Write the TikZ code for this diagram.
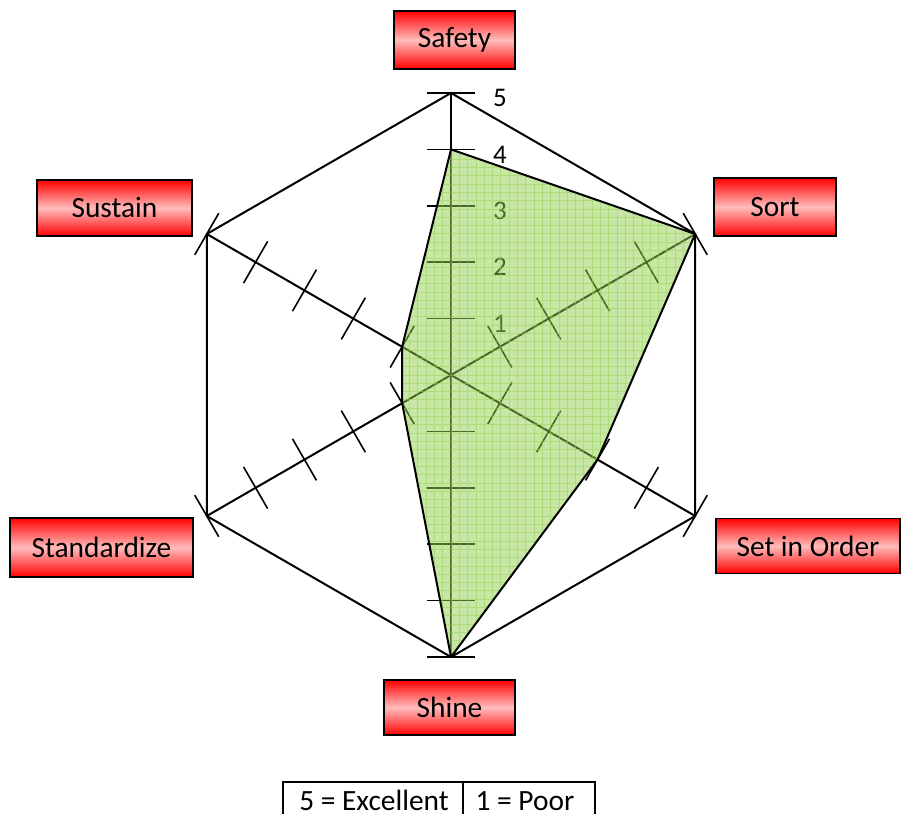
\documentclass[tikz,border=0pt]{standalone}
\usepackage{fontspec}
\setmainfont{Carlito}
\usetikzlibrary{calc}
\definecolor{fillg}{RGB}{146,208,80}
\definecolor{pinkc}{RGB}{255,188,188}
\begin{document}
\begin{tikzpicture}[x=1bp,y=1bp,
  every node/.style={font=\fontsize{29.5}{34}\selectfont},
  lbl/.style={draw=black, line width=1.5bp, top color=red, bottom color=red, middle color=pinkc, inner sep=0pt, align=center},
  ax/.style={line width=2bp},
  tick/.style={line width=1.6bp}]
\useasboundingbox (-451,-439) rectangle (450,375);
% hexagon
\draw[ax, line join=miter] (90:282) -- (30:282) -- (-30:282) -- (-90:282) -- (210:282) -- (150:282) -- cycle;
% axes
\foreach \a in {90,30,-30} \draw[ax] (\a:282) -- (\a+180:282);
% ticks
\foreach \a in {90,30,-30}
  \foreach \k in {-5,-4,-3,-2,-1,1,2,3,4,5}
    \draw[tick] ($(\a:\k*56.4)+(\a+90:24)$) -- ($(\a:\k*56.4)+(\a-90:24)$);
% scale numbers
\foreach \k in {1,...,5} \node[anchor=center, inner sep=0pt, font=\fontsize{27}{32}\selectfont] (n\k) at (49, \k*56.4-5) {\k};
% data polygon
\coordinate (p1) at (90:225.6);
\coordinate (p2) at (30:282);
\coordinate (p3) at (-30:169.2);
\coordinate (p4) at (-90:282);
\coordinate (p5) at (210:56.4);
\coordinate (p6) at (150:56.4);
\fill[fillg, opacity=0.5] (p1) -- (p2) -- (p3) -- (p4) -- (p5) -- (p6) -- cycle;
\begin{scope}
  \clip (p1) -- (p2) -- (p3) -- (p4) -- (p5) -- (p6) -- cycle;
  \draw[fillg, opacity=0.5, line width=0.8bp] (-304,-304) grid[step=8.3] (304,304);
\end{scope}
\draw[ax, line join=round] (p1) -- (p2) -- (p3) -- (p4) -- (p5) -- (p6) -- cycle;
% labels
\node[lbl, minimum width=121bp, minimum height=58bp] (safety) at (3.5,335) {Safety};
\node[lbl, minimum width=122bp, minimum height=58bp] (sort) at (324,168) {Sort};
\node[lbl, minimum width=155bp, minimum height=56bp] (sustain) at (-336.5,167) {Sustain};
\node[lbl, minimum width=184bp, minimum height=55bp] (setorder) at (357,-171) {Set in Order};
\node[lbl, minimum width=183bp, minimum height=59bp] (standardize) at (-349.5,-172.5) {Standardize};
\node[lbl, minimum width=131bp, minimum height=55bp] (shine) at (-1.5,-332.5) {Shine};
% legend
\draw[line width=1.5bp] (-168,-407) rectangle (144,-452);
\draw[line width=1.5bp] (12,-407) -- (12,-452);
\node[anchor=base, inner sep=0pt] (exc) at (-77,-435) {5 = Excellent};
\node[anchor=base, inner sep=0pt] (poor) at (74,-435) {1 = Poor};
\end{tikzpicture}
\end{document}
